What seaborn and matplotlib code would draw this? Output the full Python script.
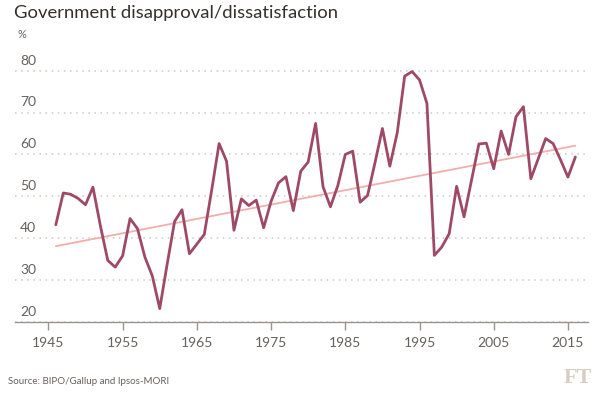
import matplotlib
matplotlib.use("Agg")
import matplotlib.pyplot as plt
import matplotlib.transforms as mtransforms
import seaborn as sns
import numpy as np
import pandas as pd

# values, one per year 1946-2016
years = np.arange(1946, 2017)
disapproval = [
    43.2, 50.8, 50.5, 49.5, 48.0, 52.2, 43.0, 34.7, 33.1, 35.8,   # 1946-1955
    44.7, 42.3, 35.5, 31.0, 23.2, 33.8, 44.0, 46.8, 36.3, 38.6,   # 1956-1965
    40.9, 51.5, 62.6, 58.4, 41.9, 49.4, 47.8, 49.1, 42.5, 48.8,   # 1966-1975
    53.2, 54.7, 46.6, 56.0, 58.2, 67.4, 52.3, 47.5, 52.6, 60.0,   # 1976-1985
    60.8, 48.6, 50.2, 58.0, 66.2, 57.2, 65.2, 78.7, 79.8, 77.8,   # 1986-1995
    72.2, 35.9, 37.9, 41.1, 52.4, 45.1, 53.8, 62.5, 62.7, 56.6,   # 1996-2005
    65.6, 60.0, 69.0, 71.4, 54.2, 59.0, 63.8, 62.6, 58.7, 54.6,   # 2006-2015
    59.4,                                                         # 2016
]
# trend line as drawn on the original (start and end)
trend_years = [1946, 2016]
trend_values = [38.1, 62.1]

y_ticks = [20, 30, 40, 50, 60, 70, 80]
x_ticks = [1945, 1955, 1965, 1975, 1985, 1995, 2005, 2015]

title = "Government disapproval/dissatisfaction"
unit = "%"
source = "Source: BIPO/Gallup and Ipsos-MORI"

line_color = "#9e4a67"
trend_color = "#f2aeab"
grid_color = "#cfc8be"
axis_color = "#9a948e"
text_grey = "#66605c"

sns.set_theme(style="white")
plt.rcParams["font.family"] = ["Lato", "DejaVu Sans"]

df = pd.DataFrame({"year": years, "value": disapproval})
trend = pd.DataFrame({"year": trend_years, "value": trend_values})

fig = plt.figure(figsize=(6, 3.93), dpi=100)
fig.patch.set_facecolor("white")
ax = fig.add_axes([15 / 600, 1 - 322 / 393, 573 / 600, (322 - 66.5) / 393])

sns.lineplot(data=trend, x="year", y="value", ax=ax, color=trend_color, lw=1.3)
sns.lineplot(data=df, x="year", y="value", ax=ax, color=line_color, lw=2.0)

ax.set_xlim(1940.5, 2017.7)
ax.set_ylim(20, 81)
ax.set_xlabel("")
ax.set_ylabel("")

ax.set_yticks(y_ticks)
ax.set_yticklabels([])
ax.tick_params(axis="y", length=0)
ax.yaxis.grid(True, linestyle=(0, (1, 3)), color=grid_color, lw=1.1)
ax.xaxis.grid(False)

ax.set_xticks(x_ticks)
ax.set_xticklabels([str(t) for t in x_ticks])
ax.tick_params(axis="x", length=6, width=1, color=axis_color, labelsize=10,
               labelcolor=text_grey, pad=5, bottom=True)

for side in ["top", "right", "left"]:
    ax.spines[side].set_visible(False)
ax.spines["bottom"].set_color(axis_color)
ax.spines["bottom"].set_linewidth(1)

# y labels sit just above their gridlines
label_tr = mtransforms.offset_copy(ax.get_yaxis_transform(), fig=fig, x=0, y=3, units="points")
for t in y_ticks:
    ax.text(0.009, t, str(t), transform=label_tr, ha="left", va="bottom",
            fontsize=10, color=text_grey)

fig.text(14 / 600, 1 - 5 / 393, title, ha="left", va="top", fontsize=13.3,
         color="#33302e")
fig.text(18 / 600, 1 - 34 / 393, unit, ha="left", va="center", fontsize=8, color=text_grey)
fig.text(8 / 600, 1 - 381 / 393, source, ha="left", va="center", fontsize=7, color=text_grey)
fig.text(592 / 600, 1 - 378 / 393, "FT", ha="right", va="center", fontsize=16,
         fontweight="bold", family=["Liberation Serif", "DejaVu Serif"], color="#d6cdc3")

fig.savefig("out.png", dpi=100, facecolor="white")
